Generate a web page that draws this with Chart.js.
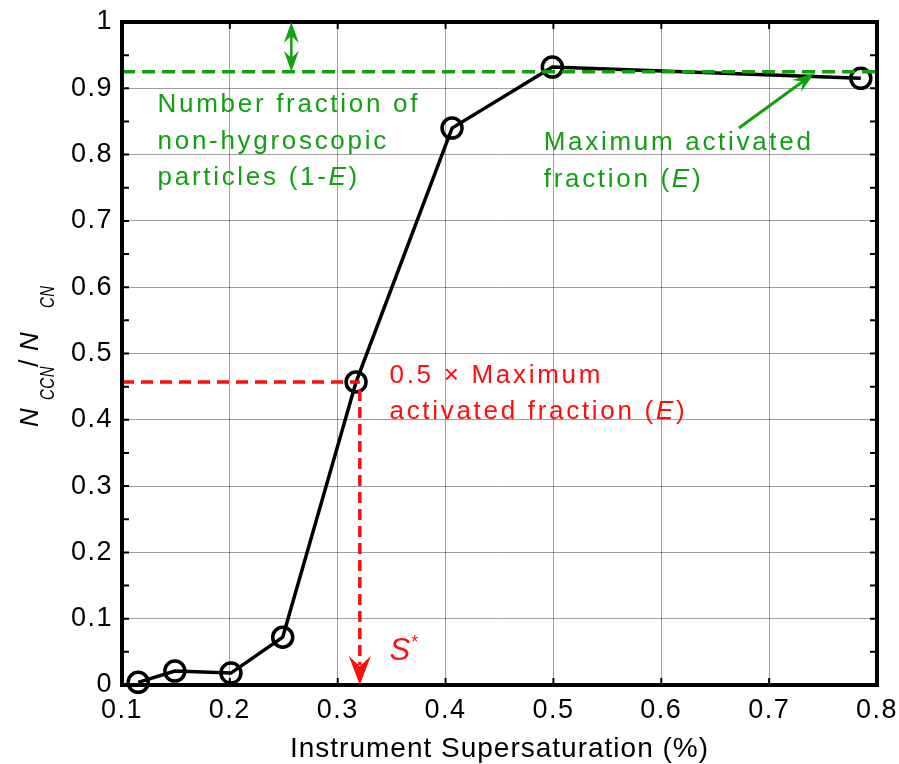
<!DOCTYPE html>
<html>
<head>
<meta charset="utf-8">
<script src="https://cdn.jsdelivr.net/npm/chart.js@4"></script>
<style>
  body { margin: 0; background: #fff; }
  canvas { display: block; }
</style>
</head>
<body>
<canvas id="ccnChart" width="899" height="764"></canvas>
<script>
// supersaturation (%) and activated fraction
const supersat = [0.115, 0.149, 0.201, 0.249, 0.317, 0.406, 0.499, 0.785];
const activated = [0.004, 0.021, 0.018, 0.072, 0.457, 0.840, 0.932, 0.915];

const maxFraction = 0.925;   // E
const halfLevel = 0.457;     // 0.5 x E read on the curve
const sStar = 0.3205;        // critical supersaturation S*

const xTicks = [0.1, 0.2, 0.3, 0.4, 0.5, 0.6, 0.7, 0.8];
const yTicks = [0, 0.1, 0.2, 0.3, 0.4, 0.5, 0.6, 0.7, 0.8, 0.9, 1];
const yMinorTicks = [0.05, 0.15, 0.25, 0.35, 0.45, 0.55, 0.65, 0.75, 0.85, 0.95];

const GREEN = '#11a011';
const RED = '#ff0d0d';
const FONT = '"Liberation Sans", Arial, sans-serif';

function fmt(v) {
  return String(Number(v.toFixed(2)));
}

function arrowHead(ctx, x, y, ang, len, wid, color) {
  // notched head, tip at (x, y) pointing along ang
  ctx.save();
  ctx.translate(x, y);
  ctx.rotate(ang);
  ctx.fillStyle = color;
  ctx.beginPath();
  ctx.moveTo(0, 0);
  ctx.lineTo(-len, -wid / 2);
  ctx.lineTo(-len * 0.65, 0);
  ctx.lineTo(-len, wid / 2);
  ctx.closePath();
  ctx.fill();
  ctx.restore();
}

function text(ctx, str, x, y, size, color, opts) {
  opts = opts || {};
  ctx.save();
  ctx.font = (opts.italic ? 'italic ' : '') + size + 'px ' + FONT;
  ctx.fillStyle = color;
  ctx.textAlign = opts.align || 'left';
  ctx.textBaseline = opts.baseline || 'alphabetic';
  ctx.letterSpacing = (opts.spacing != null ? opts.spacing : 0) + 'px';
  ctx.translate(x, y);
  if (opts.sy) ctx.scale(1, opts.sy);
  ctx.fillText(str, 0, 0);
  const w = ctx.measureText(str).width;
  ctx.restore();
  return w;
}

// draws a run of text pieces (some italic / subscript) in sequence
function runs(ctx, pieces, x, y, color, spacing) {
  let cx = x;
  pieces.forEach(p => {
    if (p.at != null) cx = x + p.at;
    cx += text(ctx, p.t, cx, y + (p.dy || 0), p.size, color,
      { italic: p.italic, spacing: spacing, sy: p.sy });
  });
  return cx - x;
}

const decorations = {
  id: 'decorations',
  afterDraw(chart) {
    const ctx = chart.ctx;
    const xs = chart.scales.x, ys = chart.scales.y;
    const a = chart.chartArea;
    const px = v => xs.getPixelForValue(v);
    const py = v => ys.getPixelForValue(v);

    // inward tick marks on all four sides
    ctx.save();
    ctx.strokeStyle = '#000';
    ctx.lineWidth = 2;
    ctx.beginPath();
    xTicks.forEach(v => {
      const x = px(v);
      ctx.moveTo(x, a.bottom); ctx.lineTo(x, a.bottom - 7);
      ctx.moveTo(x, a.top); ctx.lineTo(x, a.top + 7);
    });
    yTicks.concat(yMinorTicks).forEach(v => {
      const y = py(v);
      ctx.moveTo(a.left, y); ctx.lineTo(a.left + 7, y);
      ctx.moveTo(a.right, y); ctx.lineTo(a.right - 7, y);
    });
    ctx.stroke();

    // axes box
    ctx.lineWidth = 4;
    ctx.strokeRect(a.left, a.top, a.right - a.left, a.bottom - a.top);
    ctx.restore();

    // tick labels
    xTicks.forEach(v => text(ctx, fmt(v), px(v), a.bottom + 12, 27, '#000',
      { align: 'center', baseline: 'top', spacing: 1.5 }));
    yTicks.forEach(v => text(ctx, fmt(v), a.left - 9, py(v), 27, '#000',
      { align: 'right', baseline: 'middle', spacing: 1.5 }));

    // axis titles
    text(ctx, 'Instrument Supersaturation (%)', (a.left + a.right) / 2, 757, 28, '#000',
      { align: 'center', spacing: 1 });

    const yTitle = [
      { t: 'N', size: 26, italic: true, at: 0 },
      { t: 'CCN', size: 15, italic: true, dy: 16, sy: 1.3, at: 27 },
      { t: '/', size: 27, at: 60 },
      { t: 'N', size: 26, italic: true, at: 76 },
      { t: 'CN', size: 15, italic: true, dy: 16, sy: 1.3, at: 119 }
    ];
    ctx.save();
    ctx.translate(38, 427);
    ctx.rotate(-Math.PI / 2);
    runs(ctx, yTitle, 0, 0, '#000', 0.5);
    ctx.restore();

    // 1-E double arrow between the top axis and E
    const dx = px(0.257);
    ctx.save();
    ctx.strokeStyle = GREEN;
    ctx.lineWidth = 2.5;
    ctx.beginPath();
    ctx.moveTo(dx, py(1) + 10);
    ctx.lineTo(dx, py(maxFraction) - 10);
    ctx.stroke();
    ctx.restore();
    arrowHead(ctx, dx, py(1), -Math.PI / 2, 21, 15, GREEN);
    arrowHead(ctx, dx, py(maxFraction), Math.PI / 2, 21, 15, GREEN);

    // pointer to the E line
    const x0 = px(0.672), y0 = py(0.840), x1 = px(0.742), y1 = py(maxFraction - 0.002);
    const ang = Math.atan2(y1 - y0, x1 - x0);
    ctx.save();
    ctx.strokeStyle = GREEN;
    ctx.lineWidth = 3;
    ctx.beginPath();
    ctx.moveTo(x0, y0);
    ctx.lineTo(x1 - 14 * Math.cos(ang), y1 - 14 * Math.sin(ang));
    ctx.stroke();
    ctx.restore();
    arrowHead(ctx, x1, y1, ang, 22, 15, GREEN);

    // arrow down to S*
    arrowHead(ctx, px(sStar), py(0), Math.PI / 2, 29, 22, RED);

    // annotations
    const sp = 2.7;
    text(ctx, 'Number fraction of', px(0.133), py(0.864), 26, GREEN, { spacing: sp });
    text(ctx, 'non-hygroscopic', px(0.133), py(0.809), 26, GREEN, { spacing: sp });
    runs(ctx, [
      { t: 'particles (1-', size: 26 },
      { t: 'E', size: 26, italic: true },
      { t: ')', size: 26 }
    ], px(0.133), py(0.754), GREEN, sp);

    text(ctx, 'Maximum activated', px(0.491), py(0.807), 26, GREEN, { spacing: sp });
    runs(ctx, [
      { t: 'fraction (', size: 26 },
      { t: 'E', size: 26, italic: true },
      { t: ')', size: 26 }
    ], px(0.491), py(0.751), GREEN, sp);

    text(ctx, '0.5 \u00d7 Maximum', px(0.348), py(0.4555), 26, RED, { spacing: sp });
    runs(ctx, [
      { t: 'activated fraction (', size: 26 },
      { t: 'E', size: 26, italic: true },
      { t: ')', size: 26 }
    ], px(0.348), py(0.401), RED, sp);

    runs(ctx, [
      { t: 'S', size: 31, italic: true },
      { t: '*', size: 18, dy: -12 }
    ], px(0.348), py(0.038), RED, 1);
  }
};

const ctx = document.getElementById('ccnChart').getContext('2d');
new Chart(ctx, {
  type: 'scatter',
  data: {
    datasets: [
      {
        label: 'E',
        data: [{ x: 0.1, y: maxFraction }, { x: 0.8, y: maxFraction }],
        showLine: true,
        borderColor: GREEN,
        borderWidth: 3.5,
        borderDash: [13, 7],
        pointRadius: 0
      },
      {
        label: 'half E',
        data: [{ x: 0.1, y: halfLevel }, { x: sStar, y: halfLevel }],
        showLine: true,
        borderColor: RED,
        borderWidth: 3.5,
        borderDash: [12, 7],
        pointRadius: 0
      },
      {
        label: 'S*',
        data: [{ x: sStar, y: halfLevel - 0.012 }, { x: sStar, y: 0.03 }],
        showLine: true,
        borderColor: RED,
        borderWidth: 3.5,
        borderDash: [11, 6],
        pointRadius: 0
      },
      {
        label: 'NCCN/NCN',
        data: supersat.map((s, i) => ({ x: s, y: activated[i] })),
        showLine: true,
        borderColor: '#000',
        borderWidth: 3.5,
        pointRadius: 10,
        pointBorderWidth: 3.5,
        pointBorderColor: '#000',
        pointBackgroundColor: 'rgba(0,0,0,0)',
        clip: false
      }
    ]
  },
  options: {
    responsive: false,
    animation: false,
    events: [],
    layout: { padding: { top: 22, right: 22, left: 0, bottom: 0 } },
    plugins: { legend: { display: false }, tooltip: { enabled: false } },
    scales: {
      x: {
        type: 'linear',
        min: 0.1,
        max: 0.8,
        ticks: { stepSize: 0.1, display: false },
        grid: { color: 'rgba(0,0,0,0.38)', lineWidth: 1, drawTicks: false },
        border: { display: false },
        afterFit: s => { s.height = 79; }
      },
      y: {
        min: 0,
        max: 1,
        ticks: { stepSize: 0.1, display: false },
        grid: { color: 'rgba(0,0,0,0.38)', lineWidth: 1, drawTicks: false },
        border: { display: false },
        afterFit: s => { s.width = 122; }
      }
    }
  },
  plugins: [decorations]
});
</script>
</body>
</html>
